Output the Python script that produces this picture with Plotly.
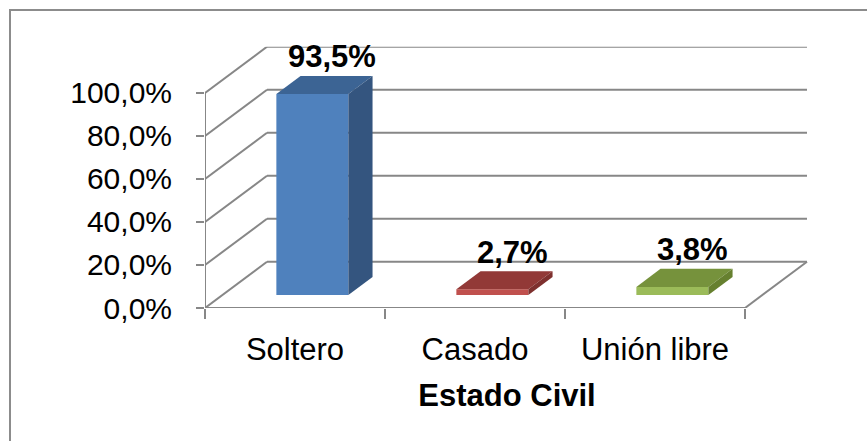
import plotly.graph_objects as go

# ---------------- data ----------------
categories = ["Soltero", "Casado", "Unión libre"]
values = [93.5, 2.7, 3.8]
value_labels = ["93,5%", "2,7%", "3,8%"]
y_ticks = [0, 20, 40, 60, 80, 100]
y_tick_labels = ["0,0%", "20,0%", "40,0%", "60,0%", "80,0%", "100,0%"]
axis_title = "Estado Civil"

# ---------------- style ----------------
front_colors = ["#4F81BD", "#C0504D", "#9BBB59"]
top_colors = ["#3C6494", "#923937", "#76923C"]
side_colors = ["#34557F", "#7E302E", "#66802F"]
grid_color = "#878787"
FONT = "Liberation Sans, Arial, sans-serif"

W, H = 867, 441
X_RANGE = [-0.5, -0.5 + (809 - 205) / 180.0]
Y_MAX = 121.5
DX = 62 / 180.0      # depth offset in category units
DY = 21.5            # depth offset in value units
F0, F1 = 0.28, 0.67  # bar depth fraction (front / back)
HW = 0.2             # half bar width

n = len(categories)
fig = go.Figure()

# ---------- walls / floor / gridlines ----------
gx, gy = [], []
left = -0.5
right = n - 0.5
for v in y_ticks:
    gx += [left + DX, right + DX, None]
    gy += [v + DY, v + DY, None]
    gx += [left, left + DX, None]
    gy += [v, v + DY, None]
gx += [left, right, None, right, right + DX, None]
gy += [0, 0, None, 0, DY, None]
gx += [left, left, None]
gy += [0, max(y_ticks), None]
fig.add_trace(go.Scatter(x=gx, y=gy, mode="lines",
                         line=dict(color=grid_color, width=2),
                         hoverinfo="skip", showlegend=False))

# ---------- 3D bars ----------
for i, v in enumerate(values):
    xl0, xr0 = i - HW + DX * F0, i + HW + DX * F0
    xl1, xr1 = i - HW + DX * F1, i + HW + DX * F1
    b0, b1 = DY * F0, DY * F1
    fig.add_trace(go.Scatter(x=[xl0, xr0, xr0, xl0, xl0],
                             y=[b0, b0, b0 + v, b0 + v, b0],
                             fill="toself", fillcolor=front_colors[i],
                             mode="lines", line=dict(width=0, color=front_colors[i]),
                             hoverinfo="skip", showlegend=False))
    fig.add_trace(go.Scatter(x=[xl0, xr0, xr1, xl1, xl0],
                             y=[b0 + v, b0 + v, b1 + v, b1 + v, b0 + v],
                             fill="toself", fillcolor=top_colors[i],
                             mode="lines", line=dict(width=0, color=top_colors[i]),
                             hoverinfo="skip", showlegend=False))
    fig.add_trace(go.Scatter(x=[xr0, xr1, xr1, xr0, xr0],
                             y=[b0, b1, b1 + v, b0 + v, b0],
                             fill="toself", fillcolor=side_colors[i],
                             mode="lines", line=dict(width=0, color=side_colors[i]),
                             hoverinfo="skip", showlegend=False))
    fig.add_annotation(x=i + DX * (F0 + F1) / 2, y=v + DY * F1,
                       xref="x", yref="y", text=value_labels[i],
                       showarrow=False, xanchor="center", yanchor="middle",
                       xshift=8, yshift=19,
                       font=dict(family=FONT, size=31, color="black", weight="bold"))

fig.update_layout(
    width=W, height=H,
    autosize=False,
    margin=dict(l=0, r=0, t=0, b=0, pad=0, autoexpand=False),
    paper_bgcolor="white", plot_bgcolor="white",
    showlegend=False,
    xaxis=dict(
        domain=[205 / W, 809 / W], range=X_RANGE,
        tickvals=list(range(n)), ticktext=categories,
        ticks="", showgrid=False, zeroline=False, showline=False,
        tickfont=dict(family=FONT, size=31, color="black"),
        ticklabelstandoff=20,
        minor=dict(tickvals=[k - 0.5 for k in range(n + 1)], ticks="outside",
                   ticklen=10, tickwidth=2, tickcolor=grid_color, showgrid=False),
        title=dict(text=axis_title, standoff=18,
                   font=dict(family=FONT, size=31, color="black", weight="bold")),
        automargin=False,
        fixedrange=True,
    ),
    yaxis=dict(
        domain=[1 - 308 / H, 1 - 46.7 / H], range=[0, Y_MAX],
        tickvals=y_ticks, ticktext=y_tick_labels,
        ticks="outside", ticklen=8, tickwidth=2, tickcolor=grid_color,
        showgrid=False, zeroline=False, showline=False,
        tickfont=dict(family=FONT, size=30, color="black"),
        ticklabelstandoff=18,
        automargin=False,
        fixedrange=True,
    ),
    shapes=[dict(type="rect", xref="paper", yref="paper",
                 x0=10 / W, x1=1.05, y0=-0.05, y1=1 - 10 / H,
                 line=dict(color="#8C8C8C", width=2), fillcolor="rgba(0,0,0,0)",
                 layer="below")],
)

fig.write_html("out.html", config={"displayModeBar": False, "staticPlot": True},
               post_script="document.body.style.margin='0';document.body.style.overflow='hidden';")
